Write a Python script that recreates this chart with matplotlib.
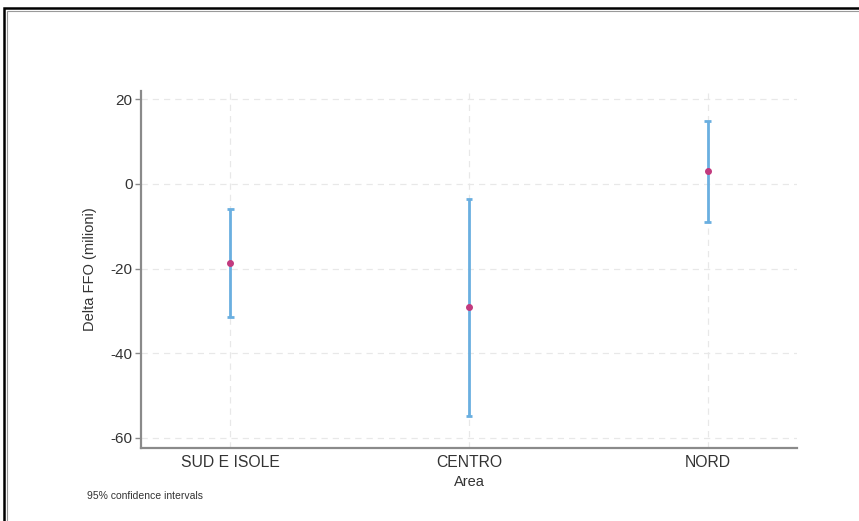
import matplotlib
matplotlib.use("Agg")
import matplotlib.pyplot as plt
from matplotlib.patches import Rectangle

plt.rcParams['font.family'] = ['Liberation Sans', 'DejaVu Sans']
plt.rcParams['axes.unicode_minus'] = False

# Estimated change in FFO by area, with 95% confidence intervals
areas = ["SUD E ISOLE", "CENTRO", "NORD"]
estimate = [-18.6, -29.1, 3.0]
ci_low = [-31.5, -54.9, -8.9]
ci_high = [-6.0, -3.6, 15.0]
y_ticks = [-60, -40, -20, 0, 20]

fig = plt.figure(figsize=(8.59, 5.21), dpi=100)
fig.patch.set_facecolor("white")

# outer frame (top and left edges visible)
fig.patches.append(Rectangle((4 / 859, -0.1), 1.2, 1 - 8 / 521 + 0.1,
                             transform=fig.transFigure, fill=False,
                             edgecolor="black", linewidth=1.8))
fig.patches.append(Rectangle((6.5 / 859, -0.1), 1.2, 1 - 10.5 / 521 + 0.1,
                             transform=fig.transFigure, fill=False,
                             edgecolor="#9a9a9a", linewidth=0.8))

ax = fig.add_axes([141 / 859, 1 - 447.7 / 521, (797 - 141) / 859, (447.7 - 91) / 521])
x = list(range(1, len(areas) + 1))

for xi, lo, hi in zip(x, ci_low, ci_high):
    ax.plot([xi, xi], [lo, hi], color="#6aafe0", linewidth=2.0, solid_capstyle="butt", zorder=3)
    for v in (lo, hi):
        ax.plot([xi - 0.013, xi + 0.013], [v, v], color="#6aafe0", linewidth=2.0,
                solid_capstyle="butt", zorder=3)
ax.plot(x, estimate, linestyle="none", marker="o", markersize=4.0,
        color="#c23a7e", markeredgecolor="#c23a7e", zorder=4)

ax.set_xlim(0.625, 3.375)
ax.set_ylim(-62.4, 22.0)
ax.set_xticks(x)
ax.set_xticklabels(areas)
ax.set_yticks(y_ticks)

ax.grid(True, color="#e8e8e8", linestyle=(0, (5, 4)), linewidth=0.9)
ax.set_axisbelow(True)

for side in ("top", "right"):
    ax.spines[side].set_visible(False)
for side in ("left", "bottom"):
    ax.spines[side].set_color("#8a8a8a")
    ax.spines[side].set_linewidth(1.6)

ax.tick_params(axis="y", length=4, width=1.0, color="#8a8a8a", labelsize=11,
               labelcolor="#333333", pad=2)
ax.tick_params(axis="x", length=0, labelsize=11.3, labelcolor="#333333", pad=5)

ax.set_ylabel("Delta FFO (milioni)", fontsize=10.5, color="#333333", labelpad=10)
ax.set_xlabel("Area", fontsize=10.5, color="#333333", labelpad=4)

fig.text(87 / 859, 1 - 496 / 521, "95% confidence intervals", fontsize=7.5,
         color="#333333", va="center", ha="left")

fig.savefig("out.png", dpi=100, facecolor="white")
